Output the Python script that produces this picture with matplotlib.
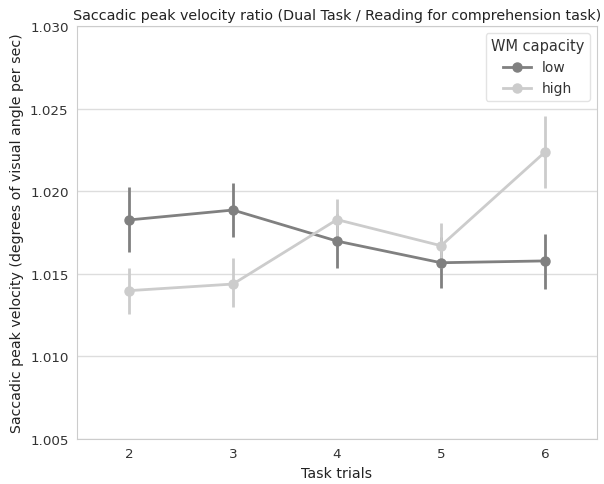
import matplotlib
matplotlib.use("Agg")
import matplotlib.pyplot as plt
import numpy as np

trials = [2, 3, 4, 5, 6]
series = ["low", "high"]
low_mean = [1.01826, 1.01886, 1.01698, 1.01567, 1.01578]
low_lo = [1.01632, 1.01723, 1.01535, 1.01414, 1.01408]
low_hi = [1.02026, 1.02050, 1.01860, 1.01720, 1.01741]
high_mean = [1.01398, 1.01438, 1.01828, 1.01670, 1.02237]
high_lo = [1.01257, 1.01299, 1.01700, 1.01535, 1.02019]
high_hi = [1.01535, 1.01596, 1.01953, 1.01808, 1.02455]
colors = ["#808080", "#cccccc"]

plt.rcParams['font.family'] = ['DejaVu Sans']
fig = plt.figure(figsize=(6.04, 4.85), dpi=100)
ax = fig.add_axes([77/604, 1 - 440/485, 520/604, 413/485])

pos = np.arange(len(trials))
for name, m, lo, hi, c in [("low", low_mean, low_lo, low_hi, colors[0]),
                            ("high", high_mean, high_lo, high_hi, colors[1])]:
    m = np.array(m); lo = np.array(lo); hi = np.array(hi)
    ax.vlines(pos, lo, hi, color=c, lw=2.0, zorder=2)
    ax.plot(pos, m, color=c, lw=2.0, marker='o', ms=6.5, label=name, zorder=3)

ax.set_xlim(-0.5, len(trials) - 0.5)
ax.set_ylim(1.005, 1.030)
ax.set_xticks(pos)
ax.set_xticklabels([str(t) for t in trials])
ax.set_yticks(np.arange(1.005, 1.0301, 0.005))
ax.yaxis.set_major_formatter(matplotlib.ticker.FormatStrFormatter('%.3f'))
ax.grid(axis='y', color='#dddddd', lw=1)
ax.set_axisbelow(True)
for s in ax.spines.values():
    s.set_color('#cccccc')
ax.tick_params(length=0, labelsize=9.7, colors='#333333', pad=6)
ax.set_xlabel("Task trials", fontsize=10.2, color='#222222')
ax.set_ylabel("Saccadic peak velocity (degrees of visual angle per sec)", fontsize=10.2, color='#222222')
ax.set_title("Saccadic peak velocity ratio (Dual Task / Reading for comprehension task)", fontsize=10.3, color='#222222', pad=5)
leg = ax.legend(title="WM capacity", loc='upper right', fontsize=10, title_fontsize=10.5,
                frameon=True, labelcolor='#333333')
leg.get_title().set_color('#333333')
leg.get_frame().set_edgecolor('#dddddd')

fig.savefig("out.png", dpi=100)
